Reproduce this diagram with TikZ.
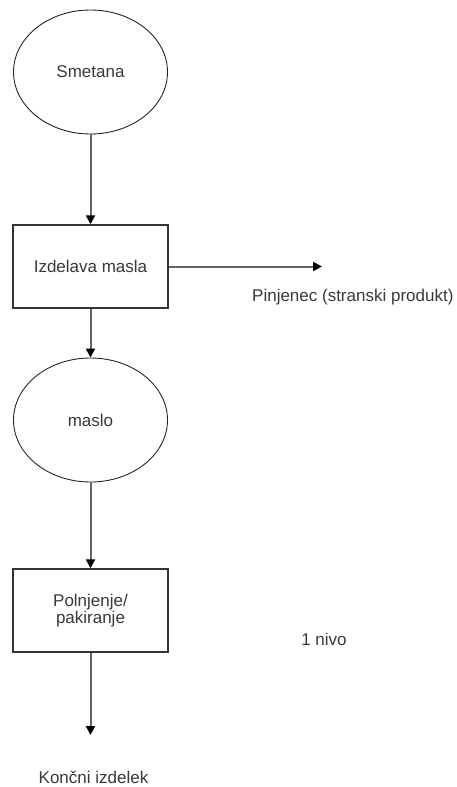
\documentclass[tikz,border=0pt]{standalone}
\usepackage{fontspec}
\setmainfont{Liberation Sans}
\usetikzlibrary{shapes.geometric,arrows.meta}
\begin{document}
\begin{tikzpicture}[x=1pt,y=-1pt,
  every node/.style={font=\fontsize{17}{19.5}\selectfont, text=black!78},
  ovalbox/.style={ellipse, draw=black!85, line width=0.9pt, minimum width=154pt, minimum height=124pt, inner sep=0pt},
  procbox/.style={rectangle, draw=black!80, line width=1.4pt, minimum width=155pt, minimum height=83pt, inner sep=0pt, align=center},
  flow/.style={draw=black!60, line width=2pt, -{Triangle[length=9pt,width=9pt,color=black]}},
  plain/.style={inner sep=0pt}
]
\useasboundingbox (0,0) rectangle (457,787);
\node[ovalbox] (smetana) at (90.5,72) {Smetana};
\node[procbox] (izdelava) at (90.5,266.5) {Izdelava masla};
\node[ovalbox] (maslo) at (90.5,420) {maslo};
\node[procbox] (polnjenje) at (90.5,610.5) {Polnjenje/\\[-2pt]pakiranje};
\coordinate (pinjend) at (322,266.5);
\coordinate (konend) at (90.5,735);
\node[plain, anchor=west] (pinjenec) at (252,297) {Pinjenec (stranski produkt)};
\node[plain] (nivo) at (324,639) {1 nivo};
\node[plain] (koncni) at (93.5,777) {Končni izdelek};
\draw[flow] (smetana) -- (izdelava);
\draw[flow] (izdelava.east) -- (pinjend);
\draw[flow] (izdelava) -- (maslo);
\draw[flow] (maslo) -- (polnjenje);
\draw[flow] (polnjenje) -- (konend);
\end{tikzpicture}
\end{document}
